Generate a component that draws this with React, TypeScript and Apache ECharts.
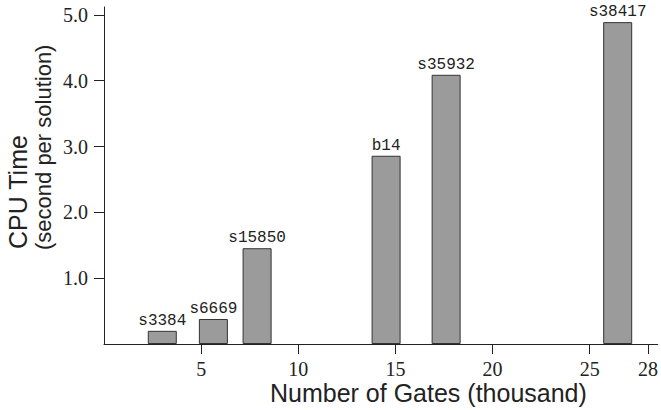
import React, { useEffect, useRef } from "react";
import * as echarts from "echarts";

// Circuit benchmarks: gate count (thousand) vs. CPU time per solution (s)
const circuitNames = ["s3384", "s6669", "s15850", "b14", "s35932", "s38417"];
const gateCounts = [3.0, 5.63, 7.88, 14.52, 17.61, 26.44];
const cpuTimes = [0.2, 0.38, 1.455, 2.86, 4.09, 4.89];

const xTickValues = [5, 10, 15, 20, 25, 28];
const yTickValues = [1, 2, 3, 4, 5];

const INK = "#222";

export default function App() {
  const ref = useRef<HTMLDivElement>(null);

  useEffect(() => {
    if (!ref.current) return;
    const chart = echarts.init(ref.current, null, { renderer: "svg" });
    chart.setOption({
      animation: false,
      backgroundColor: "#fff",
      grid: { left: 104, right: 0, top: 7, bottom: 66 },
      xAxis: {
        type: "value",
        min: 0,
        max: 28.5,
        splitLine: { show: false },
        axisLine: { show: true, lineStyle: { color: INK, width: 1 } },
        axisTick: {
          show: true,
          inside: false,
          length: 10,
          customValues: xTickValues,
          lineStyle: { color: INK },
        },
        axisLabel: {
          customValues: xTickValues,
          margin: 15,
          fontFamily: "Liberation Serif",
          fontSize: 20,
          color: INK,
        },
      },
      yAxis: {
        type: "value",
        min: 0,
        max: 5.12,
        splitLine: { show: false },
        axisLine: { show: true, lineStyle: { color: INK, width: 1 } },
        axisTick: {
          show: true,
          inside: false,
          length: 10,
          customValues: yTickValues,
          lineStyle: { color: INK },
        },
        axisLabel: {
          customValues: yTickValues,
          margin: 16,
          fontFamily: "Liberation Serif",
          fontSize: 20,
          color: INK,
          formatter: (v: number) => v.toFixed(1),
        },
      },
      graphic: [
        {
          type: "text",
          x: 18,
          y: 249,
          rotation: Math.PI / 2,
          style: {
            text: "CPU Time",
            font: '25px "Liberation Sans"',
            fill: INK,
            textAlign: "left",
            textVerticalAlign: "middle",
          },
        },
        {
          type: "text",
          x: 43,
          y: 250,
          rotation: Math.PI / 2,
          style: {
            text: "(second per solution)",
            font: '22px "Liberation Sans"',
            fill: INK,
            textAlign: "left",
            textVerticalAlign: "middle",
          },
        },
        {
          type: "text",
          x: 270,
          y: 393,
          style: {
            text: "Number of Gates (thousand)",
            font: '25px "Liberation Sans"',
            fill: INK,
            textAlign: "left",
            textVerticalAlign: "middle",
          },
        },
      ],
      series: [
        {
          type: "bar",
          barWidth: 29,
          data: gateCounts.map((g, i) => ({
            value: [g, cpuTimes[i]],
            name: circuitNames[i],
          })),
          itemStyle: { color: "#9b9b9b", borderColor: "#333", borderWidth: 1 },
          label: {
            show: true,
            position: "top",
            distance: 2,
            formatter: (p: any) => p.name,
            fontFamily: "Liberation Mono",
            fontSize: 16,
            color: INK,
          },
        },
      ],
    });
    return () => chart.dispose();
  }, []);

  return (
    <div
      ref={ref}
      style={{ position: "absolute", left: 0, top: 0, width: 661, height: 410 }}
    />
  );
}
